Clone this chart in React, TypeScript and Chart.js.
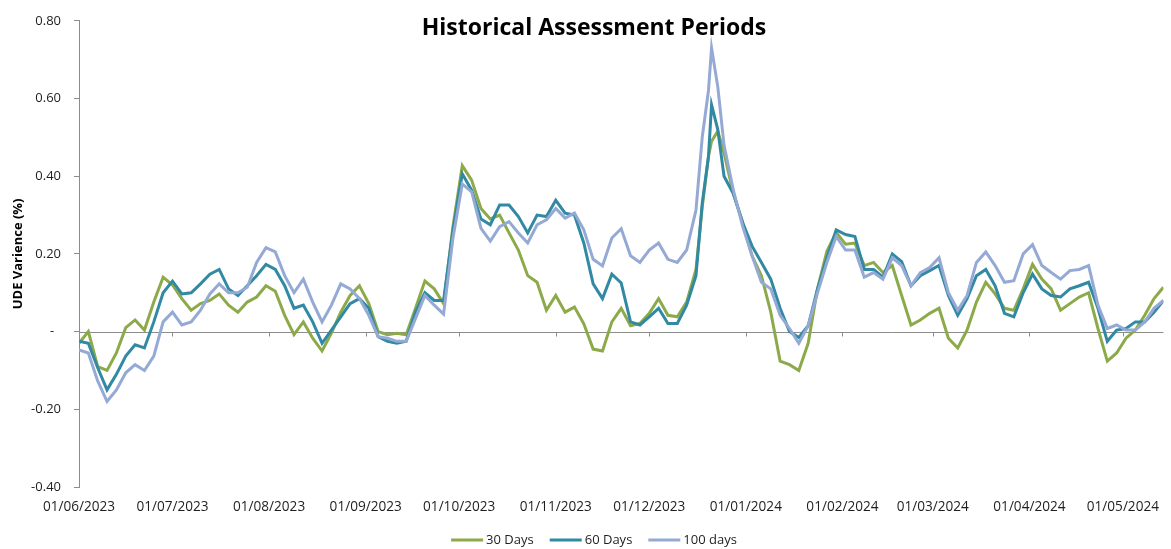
import React, { useEffect, useRef } from 'react';
import { Chart, registerables } from 'chart.js';

Chart.register(...registerables);

// Day offsets counted from 01/06/2023
const dayOffsets = [
  0, 3, 6, 9, 12, 15, 18, 21, 24, 27, 30, 33, 36, 39, 42, 45, 48, 51, 54, 57, 60, 63, 66, 69, 72, 75, 78, 81,
  84, 87, 90, 93, 96, 99, 102, 105, 108, 111, 114, 117, 120, 123, 126, 129, 132, 135, 138, 141, 144, 147, 150,
  153, 156, 159, 162, 165, 168, 171, 174, 177, 180, 183, 186, 189, 192, 195, 198, 200, 202, 203, 205, 207, 210,
  213, 216, 219, 222, 225, 228, 231, 234, 237, 240, 243, 246, 249, 252, 255, 258, 261, 264, 267, 270, 273, 276,
  279, 282, 285, 288, 291, 294, 297, 300, 303, 306, 309, 312, 315, 318, 321, 324, 327, 330, 333, 336, 339, 342,
  345, 348,
];

const days30 = [
  -0.03, 0.0, -0.09, -0.1, -0.055, 0.01, 0.03, 0.004, 0.076, 0.14, 0.12, 0.085, 0.055, 0.072, 0.08, 0.097, 0.068,
  0.05, 0.076, 0.089, 0.118, 0.104, 0.042, -0.008, 0.025, -0.017, -0.05, -0.004, 0.05, 0.093, 0.118, 0.072, 0.0,
  -0.008, -0.004, -0.008, 0.06, 0.13, 0.11, 0.072, 0.27, 0.427, 0.39, 0.317, 0.29, 0.3, 0.254, 0.21, 0.144, 0.127,
  0.055, 0.093, 0.05, 0.063, 0.02, -0.045, -0.05, 0.025, 0.06, 0.015, 0.021, 0.047, 0.085, 0.042, 0.038, 0.076,
  0.16, 0.32, 0.45, 0.49, 0.516, 0.46, 0.355, 0.28, 0.195, 0.144, 0.05, -0.076, -0.085, -0.1, -0.03, 0.11, 0.207,
  0.255, 0.225, 0.228, 0.17, 0.178, 0.152, 0.17, 0.093, 0.017, 0.03, 0.047, 0.06, -0.017, -0.042, 0.004, 0.076,
  0.127, 0.097, 0.06, 0.055, 0.11, 0.173, 0.135, 0.11, 0.055, 0.072, 0.089, 0.1, 0.008, -0.076, -0.055, -0.017,
  0.004, 0.042, 0.085, 0.114,
];

const days60 = [
  -0.025, -0.03, -0.093, -0.15, -0.11, -0.063, -0.034, -0.042, 0.025, 0.1, 0.13, 0.097, 0.1, 0.123, 0.148, 0.16,
  0.11, 0.093, 0.118, 0.144, 0.173, 0.16, 0.118, 0.06, 0.068, 0.025, -0.03, 0.004, 0.038, 0.072, 0.085, 0.06,
  -0.013, -0.025, -0.03, -0.025, 0.05, 0.1, 0.08, 0.08, 0.26, 0.406, 0.364, 0.29, 0.275, 0.326, 0.326, 0.296,
  0.254, 0.3, 0.296, 0.338, 0.305, 0.3, 0.228, 0.123, 0.085, 0.148, 0.125, 0.025, 0.017, 0.038, 0.06, 0.021,
  0.021, 0.068, 0.144, 0.33, 0.45, 0.584, 0.52, 0.4, 0.355, 0.28, 0.22, 0.178, 0.135, 0.06, 0.0, -0.015, 0.015,
  0.11, 0.19, 0.262, 0.25, 0.245, 0.16, 0.16, 0.14, 0.2, 0.18, 0.118, 0.144, 0.157, 0.17, 0.093, 0.042, 0.085,
  0.144, 0.16, 0.118, 0.047, 0.038, 0.1, 0.148, 0.11, 0.093, 0.089, 0.11, 0.118, 0.127, 0.06, -0.025, 0.004,
  0.008, 0.025, 0.025, 0.05, 0.08,
];

const days100 = [
  -0.047, -0.055, -0.127, -0.18, -0.15, -0.106, -0.085, -0.1, -0.063, 0.025, 0.05, 0.017, 0.025, 0.055, 0.097,
  0.123, 0.1, 0.1, 0.114, 0.178, 0.216, 0.205, 0.144, 0.1, 0.135, 0.076, 0.025, 0.068, 0.123, 0.11, 0.085, 0.042,
  -0.013, -0.017, -0.025, -0.025, 0.034, 0.093, 0.068, 0.045, 0.24, 0.38, 0.36, 0.266, 0.233, 0.27, 0.283, 0.254,
  0.228, 0.275, 0.288, 0.317, 0.292, 0.305, 0.262, 0.186, 0.169, 0.241, 0.265, 0.195, 0.178, 0.21, 0.228, 0.186,
  0.178, 0.21, 0.313, 0.5, 0.62, 0.73, 0.63, 0.48, 0.364, 0.27, 0.195, 0.127, 0.11, 0.042, 0.008, -0.03, 0.015,
  0.1, 0.178, 0.245, 0.21, 0.21, 0.14, 0.152, 0.135, 0.19, 0.17, 0.118, 0.152, 0.165, 0.19, 0.1, 0.055, 0.093,
  0.178, 0.205, 0.17, 0.127, 0.131, 0.2, 0.224, 0.17, 0.152, 0.135, 0.157, 0.16, 0.17, 0.068, 0.008, 0.017, 0.004,
  0.004, 0.025, 0.06, 0.08,
];

const seriesNames = ['30 Days', '60 Days', '100 days'];
const seriesColors = ['#8DAA4A', '#3189A3', '#95A9D5'];

const monthTickDays = [0, 30, 61, 92, 122, 153, 183, 214, 245, 274, 305, 335];
const monthTickLabels = [
  '01/06/2023', '01/07/2023', '01/08/2023', '01/09/2023', '01/10/2023', '01/11/2023',
  '01/12/2023', '01/01/2024', '01/02/2024', '01/03/2024', '01/04/2024', '01/05/2024',
];

const chartTitle = 'Historical Assessment Periods';
const yAxisTitle = 'UDE Varience (%)';

const FONT = "'Open Sans', sans-serif";
const AXIS_GREY = '#8c8c8c';
const TEXT = '#1e1e1e';

const decorPlugin = {
  id: 'decor',
  beforeDatasetsDraw(chart: any) {
    const { ctx, chartArea, scales } = chart;
    const yy = Math.round(scales.y.getPixelForValue(0)) + 0.5;
    ctx.save();
    ctx.strokeStyle = AXIS_GREY;
    ctx.lineWidth = 1;
    ctx.beginPath();
    ctx.moveTo(chartArea.left, yy);
    ctx.lineTo(chartArea.right, yy);
    monthTickDays.forEach((d) => {
      const x = Math.round(scales.x.getPixelForValue(d)) + 0.5;
      ctx.moveTo(x, yy);
      ctx.lineTo(x, yy + 4);
    });
    ctx.stroke();
    ctx.restore();
  },
  afterDraw(chart: any) {
    const { ctx } = chart;
    const centerX = 594;
    ctx.save();
    // title
    ctx.font = `bold 23px ${FONT}`;
    ctx.fillStyle = '#000';
    ctx.textAlign = 'center';
    ctx.textBaseline = 'middle';
    ctx.fillText(chartTitle, centerX, 28);

    // legend
    ctx.font = `13px ${FONT}`;
    const lineLen = 32;
    const gap = 3;
    const itemGap = 16;
    const items = chart.data.datasets.map((ds: any) => ({
      label: ds.label as string,
      color: ds.borderColor as string,
      w: lineLen + gap + ctx.measureText(ds.label).width,
    }));
    const total = items.reduce((s: number, it: any) => s + it.w, 0) + itemGap * (items.length - 1);
    let x = centerX - total / 2;
    const y = 540;
    ctx.textAlign = 'left';
    ctx.textBaseline = 'middle';
    items.forEach((it: any) => {
      ctx.strokeStyle = it.color;
      ctx.lineWidth = 3;
      ctx.beginPath();
      ctx.moveTo(x, y);
      ctx.lineTo(x + lineLen, y);
      ctx.stroke();
      ctx.fillStyle = TEXT;
      ctx.fillText(it.label, x + lineLen + gap, y);
      x += it.w + itemGap;
    });
    ctx.restore();
  },
};

export default function App() {
  const canvasRef = useRef<HTMLCanvasElement | null>(null);

  useEffect(() => {
    document.body.style.margin = '0';
    const canvas = canvasRef.current;
    if (!canvas) return;
    const allSeries = [days30, days60, days100];
    const chart = new Chart(canvas, {
      type: 'line',
      data: {
        datasets: allSeries.map((vals, si) => ({
          label: seriesNames[si],
          data: dayOffsets.map((d, i) => ({ x: d, y: vals[i] })),
          borderColor: seriesColors[si],
          backgroundColor: seriesColors[si],
          borderWidth: 3,
          pointRadius: 0,
          tension: 0,
          fill: false,
          order: 3 - si,
        })),
      },
      options: {
        animation: false,
        responsive: false,
        devicePixelRatio: 1,
        events: [],
        layout: { padding: { top: 16, right: 1, bottom: 0, left: 0 } },
        plugins: {
          legend: { display: false },
          title: { display: false },
          tooltip: { enabled: false },
        },
        scales: {
          x: {
            type: 'linear',
            min: 0,
            max: 348,
            grid: { display: false, drawTicks: false },
            border: { display: false },
            ticks: {
              autoSkip: false,
              maxRotation: 0,
              minRotation: 0,
              padding: 12,
              color: TEXT,
              font: { family: FONT, size: 13.6 },
              callback: (v: any) => {
                const i = monthTickDays.indexOf(Number(v));
                return i >= 0 ? monthTickLabels[i] : '';
              },
            },
            afterBuildTicks: (s: any) => {
              s.ticks = monthTickDays.map((v) => ({ value: v }));
            },
            afterFit: (s: any) => {
              s.height = 62;
            },
          },
          y: {
            min: -0.4,
            max: 0.8,
            ticks: {
              stepSize: 0.2,
              padding: 13,
              color: TEXT,
              font: { family: FONT, size: 13 },
              callback: (v: any) => (Math.abs(Number(v)) < 1e-9 ? '-  ' : Number(v).toFixed(2)),
            },
            grid: {
              display: true,
              drawOnChartArea: false,
              drawTicks: true,
              tickLength: 5,
              color: AXIS_GREY,
            },
            border: { display: true, color: AXIS_GREY },
            title: {
              display: true,
              text: yAxisTitle,
              color: '#000',
              font: { family: FONT, size: 13, weight: 'bold' },
              padding: { top: 10, bottom: 0 },
            },
            afterFit: (s: any) => {
              s.width = 79;
            },
          },
        },
      },
      plugins: [decorPlugin],
    });
    return () => chart.destroy();
  }, []);

  return (
    <div style={{ width: 1171, height: 549, position: 'relative', background: '#fff' }}>
      <canvas ref={canvasRef} width={1171} height={549} />
    </div>
  );
}
